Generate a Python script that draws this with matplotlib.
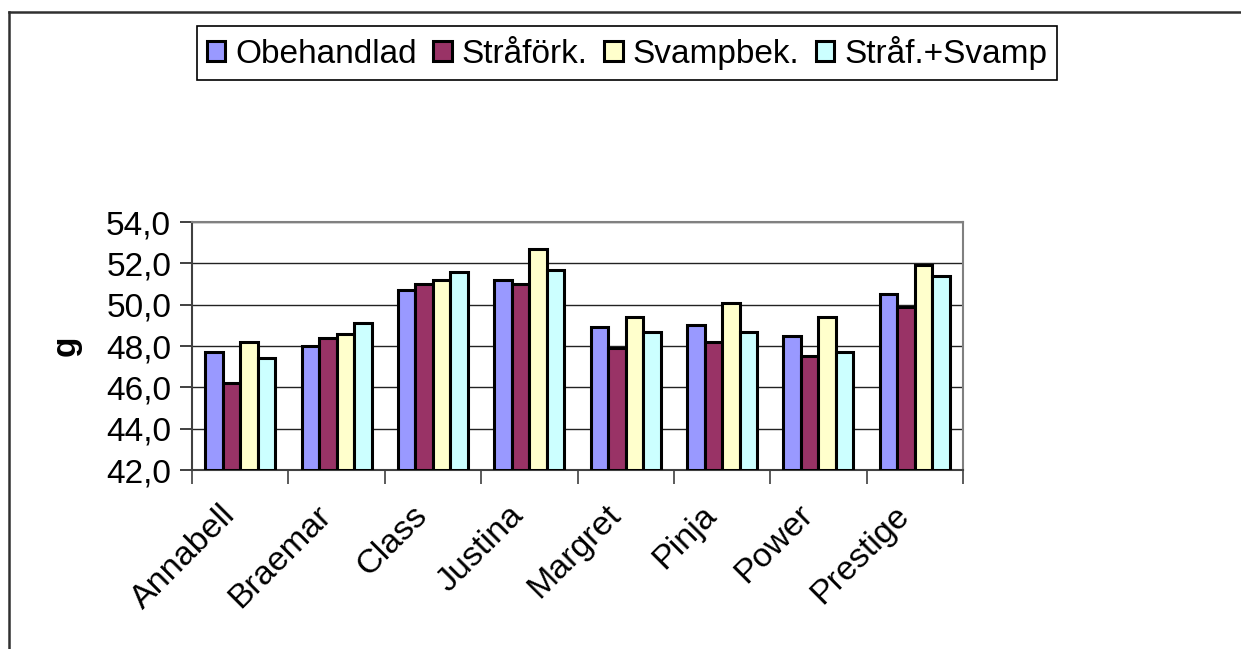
import matplotlib
matplotlib.use("Agg")
import matplotlib.pyplot as plt
import matplotlib.transforms as mtransforms
import numpy as np
from matplotlib.lines import Line2D

categories = ["Annabell", "Braemar", "Class", "Justina", "Margret", "Pinja", "Power", "Prestige"]
series_names = ["Obehandlad", "Stråförk.", "Svampbek.", "Stråf.+Svamp"]
obehandlad = [47.7, 48.0, 50.7, 51.2, 48.9, 49.0, 48.5, 50.5]
straforkk = [46.2, 48.4, 51.0, 51.0, 47.9, 48.2, 47.5, 49.9]
svampbek = [48.2, 48.6, 51.2, 52.7, 49.4, 50.1, 49.4, 51.9]
straf_svamp = [47.4, 49.1, 51.6, 51.7, 48.7, 48.7, 47.7, 51.4]
yticks = [42.0, 44.0, 46.0, 48.0, 50.0, 52.0, 54.0]
ylabel = "g"

colors = ["#9999FF", "#993366", "#FFFFCC", "#CCFFFF"]
plt.rcParams['font.family'] = ['Liberation Sans', 'DejaVu Sans']

fig = plt.figure(figsize=(12.41, 6.49), dpi=100)
ax = fig.add_axes([192/1241, 1-470/649, (963-192)/1241, (470-222)/649])

x = np.arange(len(categories))
w = 1/5.5
data = [obehandlad, straforkk, svampbek, straf_svamp]
handles = []
for i, (vals, c, name) in enumerate(zip(data, colors, series_names)):
    b = ax.bar(x + (i-1.5)*w, np.array(vals)-42.0, bottom=42.0, width=w, color=c,
               edgecolor='black', linewidth=2.2, label=name, zorder=3)
    handles.append(b)

ax.set_xlim(-0.5, len(categories)-0.5)
ax.set_ylim(42, 54)
ax.set_yticks(yticks)
ax.set_yticklabels([f"{v:.1f}".replace('.', ',') for v in yticks], fontsize=24)
ax.yaxis.grid(True, color='#222222', linewidth=1.0, zorder=0)
ax.set_axisbelow(True)

ax.set_xticks(x)
ax.set_xticklabels(categories, fontsize=24.5, rotation=45, ha='right', rotation_mode='anchor')
ax.set_xticks(np.arange(-0.5, len(categories)), minor=True)
ax.tick_params(axis='x', which='major', length=0, pad=14)
ax.tick_params(axis='x', which='minor', length=10, width=1.2, direction='out', color='#404040')
ax.tick_params(axis='y', length=9, width=1.2, direction='out', color='#202020', pad=6)

offset = mtransforms.ScaledTranslation(-0.21, -0.10, fig.dpi_scale_trans)
for lbl in ax.get_xticklabels():
    lbl.set_transform(lbl.get_transform() + offset)

for s in ['top', 'right']:
    ax.spines[s].set_color('#808080')
    ax.spines[s].set_linewidth(1.5)
for s in ['left', 'bottom']:
    ax.spines[s].set_color('#404040')
    ax.spines[s].set_linewidth(1.5)

ax.set_ylabel(ylabel, fontsize=24, fontweight='bold', labelpad=18)

leg = fig.legend(handles=handles, labels=series_names, loc='center',
                 bbox_to_anchor=(627/1241, 1-53/649), ncol=4, fontsize=24,
                 frameon=True, fancybox=False, edgecolor='black', framealpha=1,
                 handlelength=0.55, handleheight=0.55, handletextpad=0.3,
                 columnspacing=0.5, borderpad=0.3, borderaxespad=0)
leg.get_frame().set_linewidth(1.2)

fig.add_artist(Line2D([9/1241, 9/1241], [0, 1-12/649], transform=fig.transFigure,
                      color='#303030', linewidth=1.8))
fig.add_artist(Line2D([9/1241, 1], [1-12/649, 1-12/649], transform=fig.transFigure,
                      color='#303030', linewidth=1.8))

fig.savefig("out.png", dpi=100)
